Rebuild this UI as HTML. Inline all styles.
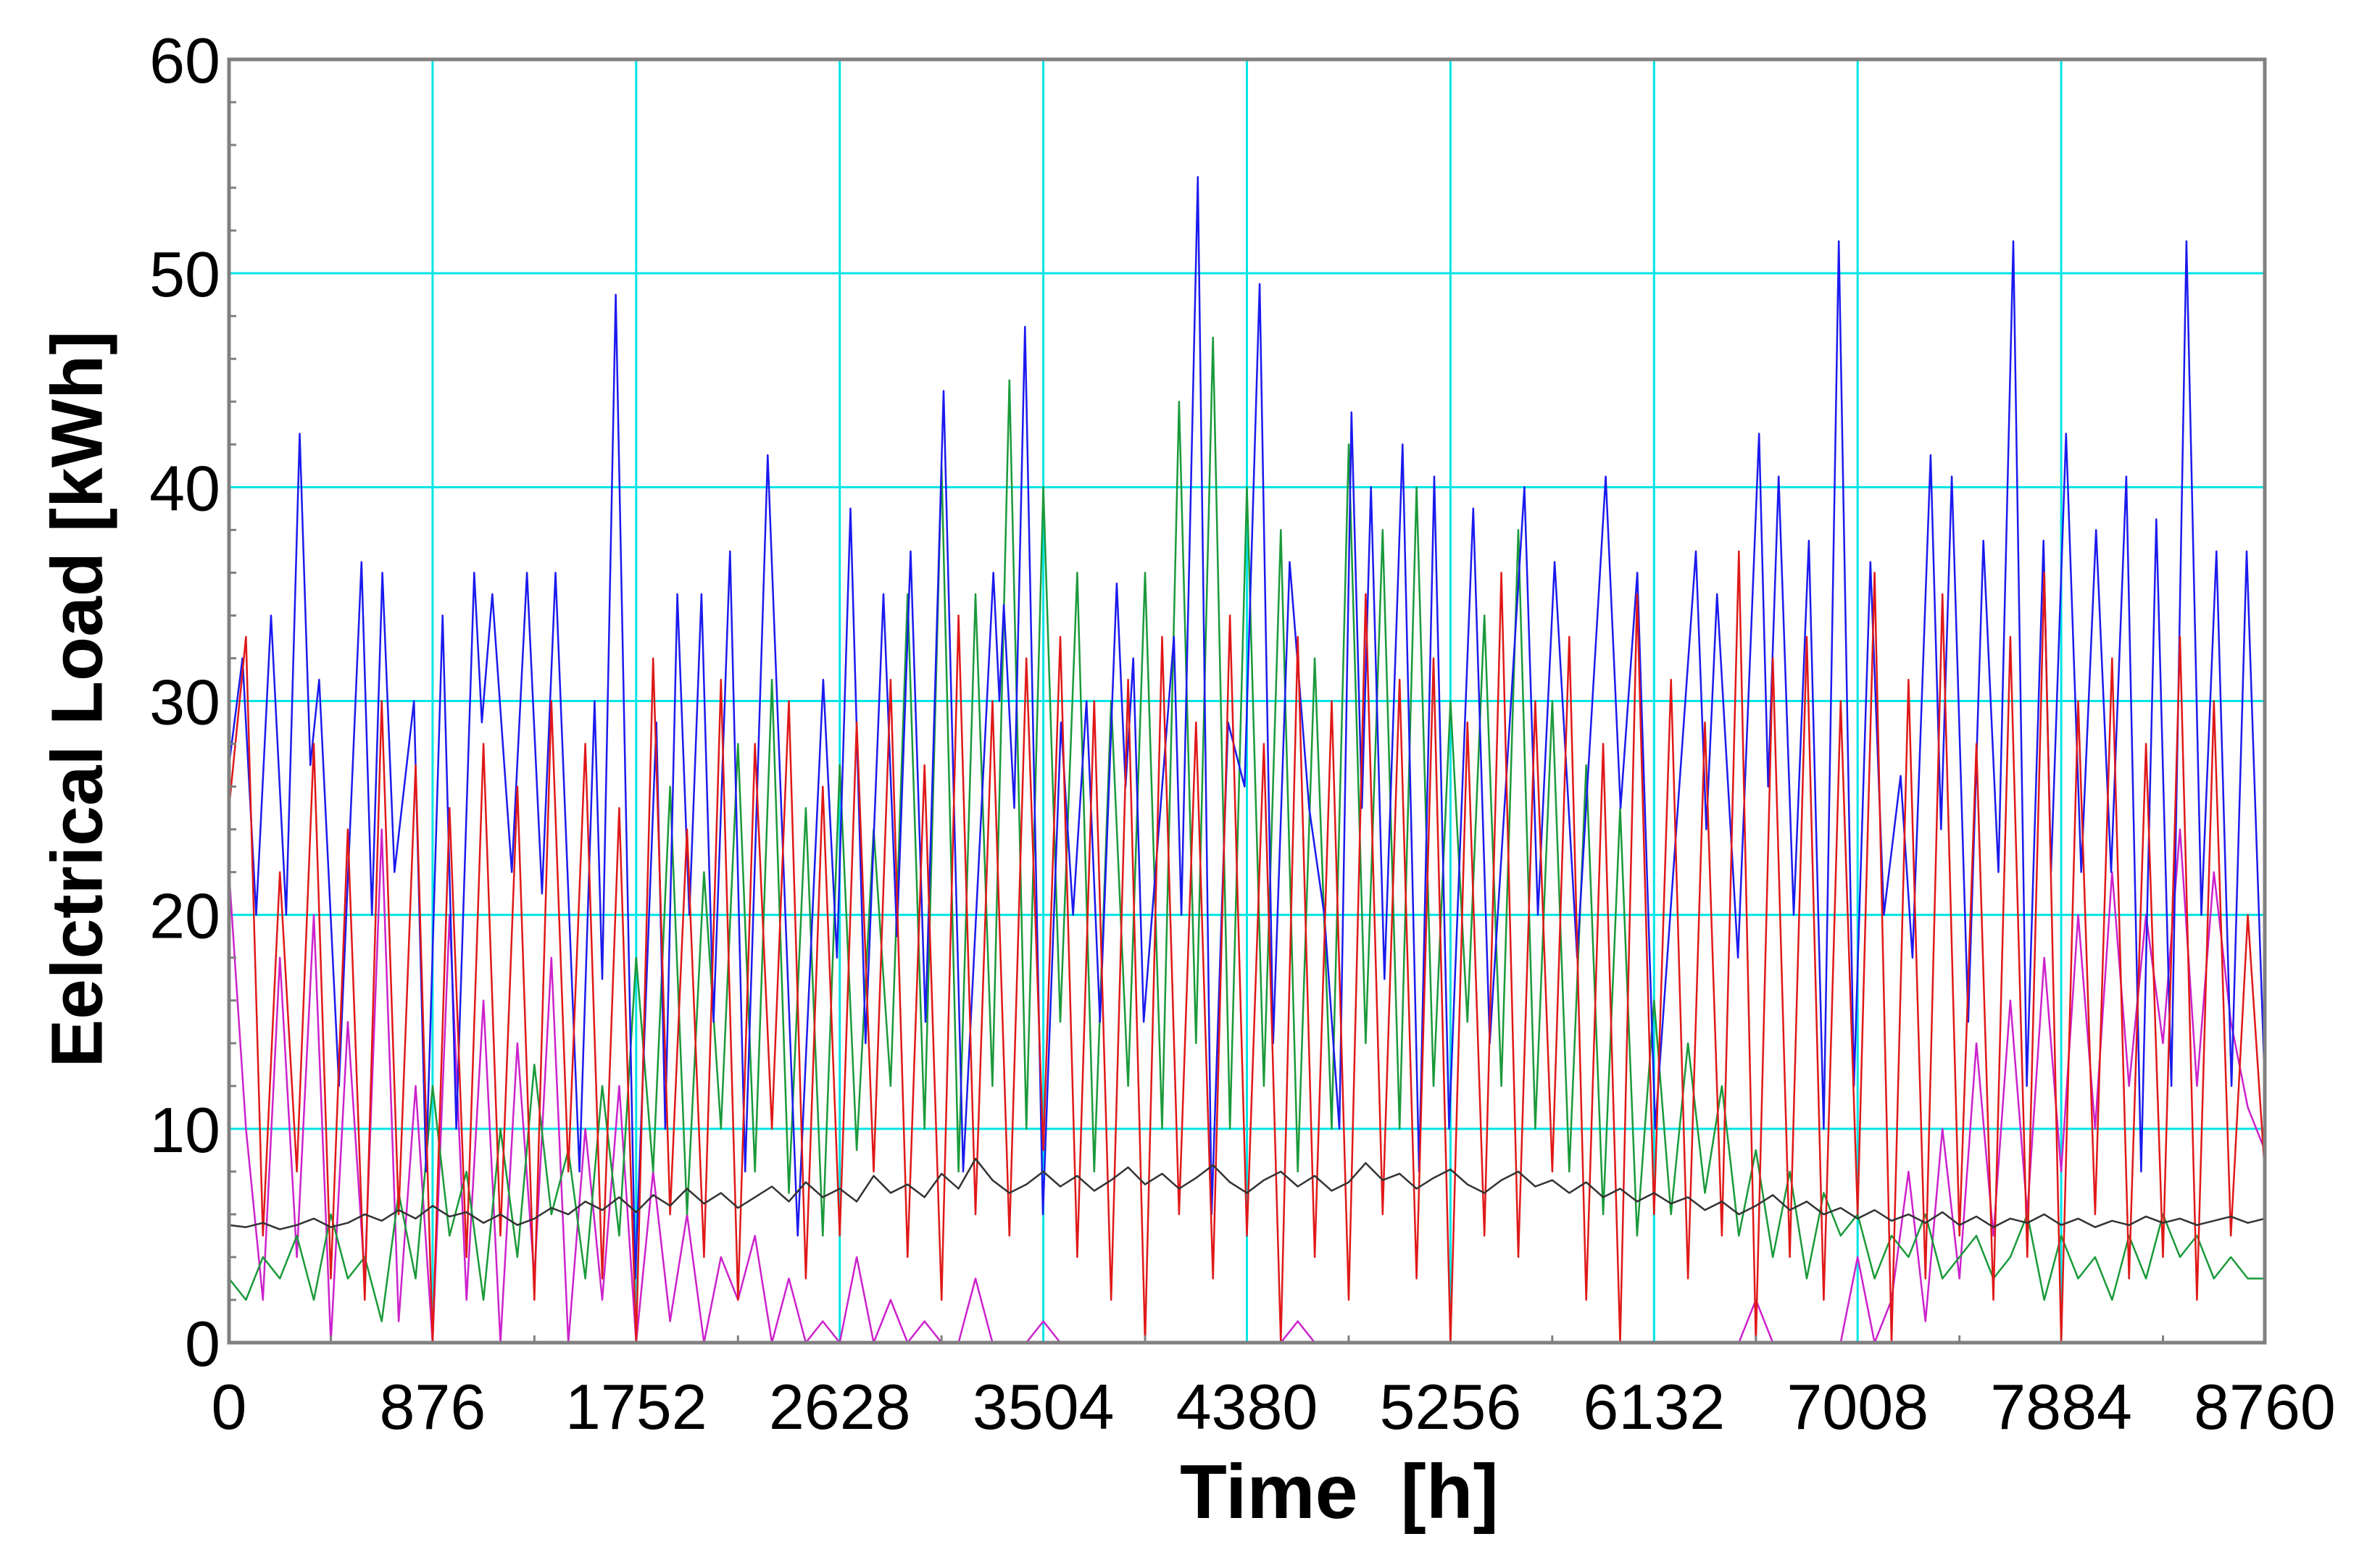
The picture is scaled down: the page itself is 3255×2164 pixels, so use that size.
<!DOCTYPE html>
<html><head><meta charset="utf-8"><style>
html,body{margin:0;padding:0;background:#fff;}
svg{display:block;font-family:"Liberation Sans",Arial,sans-serif;}
</style></head><body>
<svg id="chart" width="3255" height="2164" viewBox="0 0 3255 2164" xmlns="http://www.w3.org/2000/svg">
<rect width="3255" height="2164" fill="#fff"/>
<g id="grid"></g>
<g id="series"></g>
<rect x="316" y="82" width="2809" height="1771" fill="none" stroke="#808080" stroke-width="5"/>
<g id="ticks"></g>
<text x="114" y="965" transform="rotate(-90 114 965)" text-anchor="middle" font-size="100" font-weight="bold" dominant-baseline="middle">Eelctrical Load [kWh]</text>
<text x="1848" y="2095" text-anchor="middle" font-size="106" font-weight="bold" xml:space="preserve">Time  [h]</text>
</svg>
<script>
const xTicks=[0,876,1752,2628,3504,4380,5256,6132,7008,7884,8760];
const yTicks=[0,10,20,30,40,50,60];
const blueT=[0,58,117,181,246,304,350,388,473,570,615,660,712,796,848,919,978,1055,1088,1133,1217,1282,1347,1405,1508,1573,1606,1664,1748,1839,1877,1929,1981,2033,2085,2156,2221,2318,2447,2557,2616,2674,2739,2816,2874,2933,2997,3075,3159,3289,3315,3334,3379,3425,3502,3580,3632,3690,3748,3820,3858,3891,3936,4066,4098,4169,4228,4299,4370,4435,4493,4564,4648,4713,4778,4830,4875,4914,4972,5050,5121,5186,5250,5354,5425,5574,5632,5704,5801,5924,5988,6060,6137,6312,6357,6403,6493,6584,6623,6668,6733,6798,6862,6927,6992,7063,7121,7193,7244,7322,7367,7413,7484,7549,7614,7678,7736,7808,7840,7905,7970,8034,8099,8164,8228,8293,8358,8423,8487,8552,8617,8682,8760];
const blueV=[27,32,20,34,20,42.5,27,31,12,36.5,20,36,22,30,8,34,10,36,29,35,22,36,21,36,8,30,17,49,3,29,10,35,20,35,15,37,8,41.5,5,31,18,39,14,35,19,37,15,44.5,8,36,30,34.5,25,47.5,6,29,20,30,15,35.5,26,32,15,33,20,54.5,6,29,26,49.5,14,36.5,25,20,10,43.5,25,40,17,42,8,40.5,10,39,14,40,20,36.5,18,40.5,25,36,10,37,24,35,18,42.5,26,40.5,20,37.5,10,51.5,12,36.5,20,26.5,18,41.5,24,40.5,15,37.5,22,51.5,12,37.5,22,42.5,22,38,22,40.5,8,38.5,12,51.5,20,37,12,37,12];
const redV=[25,33,5,22,8,28,3,24,2,30,6,27,0,25,4,28,5,26,2,30,8,28,3,25,0,32,6,24,4,31,2,28,10,30,3,26,5,29,8,31,4,27,2,34,6,30,5,32,9,33,4,30,2,31,0,33,6,29,3,34,5,28,0,33,4,30,2,35,6,31,3,32,0,29,5,36,4,30,8,33,2,28,0,35,6,31,3,29,5,37,0,32,4,33,2,30,6,36,0,31,3,35,5,28,2,33,4,36,0,30,6,32,3,28,4,33,2,30,5,20,8];
const greenV=[3,2,4,3,5,2,6,3,4,1,7,3,12,5,8,2,10,4,13,6,9,3,12,5,18,8,26,6,22,10,28,8,31,7,25,5,27,9,24,12,35,10,41,8,35,12,45,10,40,15,36,8,30,12,36,10,44,14,47,10,40,12,38,8,32,10,42,14,38,10,40,12,30,15,34,12,38,10,30,8,27,6,25,5,16,6,14,7,12,5,9,4,8,3,7,5,6,3,5,4,6,3,4,5,3,4,6,2,5,3,4,2,5,3,6,4,5,3,4,3,3];
const magentaV=[22,10,2,18,4,20,0,15,3,24,1,12,0,20,2,16,0,14,3,18,0,10,2,12,0,8,1,6,0,4,2,5,0,3,0,1,0,4,0,2,0,1,0,0,3,0,0,0,1,0,0,0,0,0,0,0,0,0,0,0,0,0,0,1,0,0,0,0,0,0,0,0,0,0,0,0,0,0,0,0,0,0,0,0,0,0,0,0,0,0,2,0,0,0,0,0,4,0,2,8,1,10,3,14,5,16,6,18,8,20,10,22,12,20,14,24,12,22,15,11,9];
const blackV=[5.5,5.4,5.6,5.3,5.5,5.8,5.4,5.6,6.0,5.7,6.2,5.8,6.4,5.9,6.1,5.6,6.0,5.5,5.8,6.3,6.0,6.6,6.2,6.8,6.1,6.9,6.4,7.2,6.5,7.0,6.3,6.8,7.3,6.6,7.5,6.8,7.2,6.6,7.8,7.0,7.4,6.8,7.9,7.2,8.6,7.6,7.0,7.4,8.0,7.3,7.8,7.1,7.6,8.2,7.4,7.9,7.2,7.7,8.3,7.5,7.0,7.6,8.0,7.3,7.8,7.1,7.5,8.4,7.6,7.9,7.2,7.7,8.1,7.4,7.0,7.6,8.0,7.3,7.6,7.0,7.5,6.8,7.2,6.6,7.0,6.5,6.8,6.2,6.6,6.0,6.4,6.9,6.2,6.6,6.0,6.3,5.8,6.2,5.7,6.0,5.6,6.1,5.5,5.9,5.4,5.8,5.6,6.0,5.5,5.8,5.4,5.7,5.5,5.9,5.6,5.8,5.5,5.7,5.9,5.6,5.8];

const L=316,R=3125,T=82,B=1853,NS='http://www.w3.org/2000/svg';
const xs=h=>L+(h/8760)*(R-L);
const ys=v=>B-(v/60)*(B-T);
function mk(tag,attrs,parent){const e=document.createElementNS(NS,tag);for(const k in attrs)e.setAttribute(k,attrs[k]);parent.appendChild(e);return e;}
const grid=document.getElementById('grid'),ticks=document.getElementById('ticks'),ser=document.getElementById('series');
xTicks.forEach((t,i)=>{
  if(i>0&&i<xTicks.length-1){const g=mk('line',{x1:xs(t),x2:xs(t),y1:T,y2:B,stroke:'#00e5e5','stroke-width':3},grid);
  
  }
  const tx=mk('text',{x:xs(t),y:1972,'text-anchor':'middle','font-size':88},ticks);tx.textContent=t;
  
  
  if(i<xTicks.length-1){const m=mk('line',{x1:xs(t+438),x2:xs(t+438),y1:B,y2:B-10,stroke:'#808080','stroke-width':3},ticks);
  
  }
});
yTicks.forEach((t,i)=>{
  if(i>0&&i<yTicks.length-1){const g=mk('line',{x1:L,x2:R,y1:ys(t),y2:ys(t),stroke:'#00e5e5','stroke-width':3},grid);
  
  }
  const tx=mk('text',{x:304,y:ys(t)+32,'text-anchor':'end','font-size':88},ticks);tx.textContent=t;
  
  
  if(i<yTicks.length-1){for(let k=2;k<10;k+=2){const m=mk('line',{x1:L,x2:L+10,y1:ys(t+k),y2:ys(t+k),stroke:'#808080','stroke-width':3},ticks);
  
  }}
});
function line(times,vals,color,name){
  const pts=vals.map((v,i)=>{const h=times?times[i]:i*8760/(vals.length-1);return xs(h).toFixed(1)+','+ys(v).toFixed(1);}).join(' ');
  const p=mk('polyline',{points:pts,fill:'none',stroke:color,'stroke-width':2.5,'stroke-linejoin':'round'},ser);
  
  
}
line(null,magentaV,'#cc22cc','magenta-series');
line(null,greenV,'#1a9a3a','green-series');
line(blueT,blueV,'#1a1aee','blue-series');
line(null,redV,'#e01818','red-series');
line(null,blackV,'#333333','black-series');
</script>
</body></html>
